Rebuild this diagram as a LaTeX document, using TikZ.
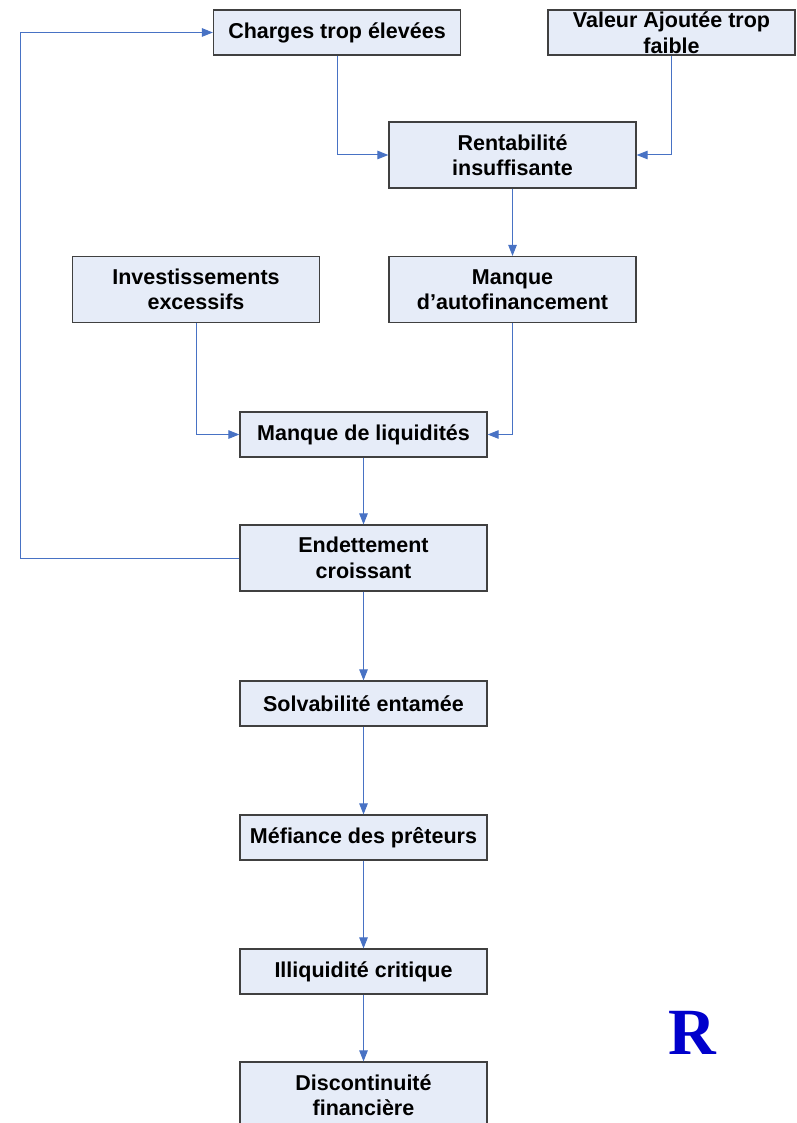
\documentclass[tikz,border=0pt]{standalone}
\usepackage{fontspec}
\setmainfont{Liberation Sans}
\newfontfamily\rserif{Liberation Serif}
\usetikzlibrary{arrows.meta}
\definecolor{boxfill}{RGB}{230,236,248}
\definecolor{boxline}{RGB}{64,64,64}
\definecolor{conn}{RGB}{72,114,196}
\definecolor{rblue}{RGB}{0,0,204}
\begin{document}
\begin{tikzpicture}[x=1pt,y=-1pt,
  fbox/.style={draw=boxline,fill=boxfill,line width=1.2pt,inner sep=0pt,
    minimum width=247pt,minimum height=45pt,align=center,
    font=\fontsize{21.5}{25.5}\selectfont\bfseries},
  tall/.style={minimum height=66pt},
  arr/.style={draw=conn,line width=1pt,-{Triangle[length=11pt,width=8.5pt]}}]
\useasboundingbox (0,0) rectangle (796,1123);
\node[fbox] (charges) at (337,32.5) {Charges trop élevées};
\node[fbox] (valeur) at (671.5,32.5) {Valeur Ajoutée trop\\faible};
\node[fbox,tall] (rent) at (512.5,155) {Rentabilité\\insuffisante};
\node[fbox,tall] (invest) at (196,289.5) {Investissements\\excessifs};
\node[fbox,tall] (autof) at (512.5,289.5) {Manque\\d’autofinancement};
\node[fbox] (liq) at (363.5,434.5) {Manque de liquidités};
\node[fbox,tall] (endet) at (363.5,558) {Endettement\\croissant};
\node[fbox] (solv) at (363.5,703.5) {Solvabilité entamée};
\node[fbox] (mef) at (363.5,837.5) {Méfiance des prêteurs};
\node[fbox] (illiq) at (363.5,971.5) {Illiquidité critique};
\node[fbox,tall] (disc) at (363.5,1095) {Discontinuité\\financière};
\node[text=rblue,font=\rserif\bfseries\fontsize{66}{66}\selectfont] (r) at (692,1033) {R};
\coordinate (loop) at (20,558);
\draw[arr] (charges.south) |- (rent.west);
\draw[arr] (valeur.south) |- (rent.east);
\draw[arr] (rent.south) -- (autof.north);
\draw[arr] (invest.south) |- (liq.west);
\draw[arr] (autof.south) |- (liq.east);
\draw[arr] (liq.south) -- (endet.north);
\draw[arr] (endet.west) -- (loop) |- (charges.west);
\draw[arr] (endet.south) -- (solv.north);
\draw[arr] (solv.south) -- (mef.north);
\draw[arr] (mef.south) -- (illiq.north);
\draw[arr] (illiq.south) -- (disc.north);
\end{tikzpicture}
\end{document}
